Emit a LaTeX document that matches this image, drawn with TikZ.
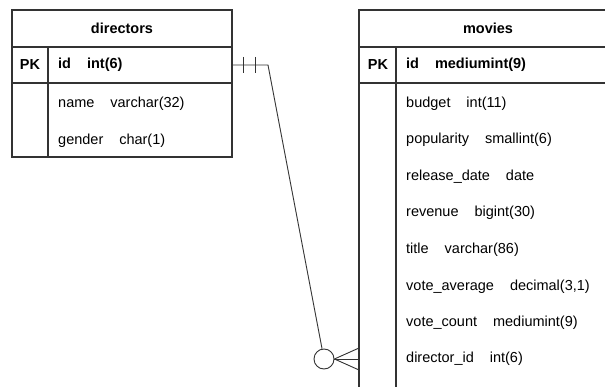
\documentclass[tikz,border=0pt]{standalone}
\usepackage{fontspec}
\setmainfont{Liberation Sans}
\usetikzlibrary{calc}

\newcommand{\fld}[2]{#1\hspace{1.1em}#2}
\newcommand{\erfont}{\fontsize{14.5}{17}\selectfont}

\tikzset{
  tbl/.style={draw, line width=1.1pt, color=black!80},
  head/.style={font=\erfont\bfseries},
  fld/.style={anchor=west, inner sep=0pt, font=\erfont},
  pk/.style={font=\erfont\bfseries, inner sep=0pt},
  rel/.style={draw, line width=0.9pt, color=black!80}
}

\begin{document}
\begin{tikzpicture}[x=1pt, y=-1pt]
  \useasboundingbox (0,0) rectangle (605,387);
  \clip (0,0) rectangle (605,387);
  \fill[white] (0,0) rectangle (605,387);

  % directors table
  \draw[tbl] (12,10) rectangle (232,157);
  \draw[tbl] (12,47) -- (232,47) (12,83) -- (232,83) (48,47) -- (48,157);
  \node[head] (directors) at (122,28) {directors};
  \node[pk] (d-pk) at (30,65) {PK};
  \node[fld, font=\erfont\bfseries] (d-id) at (58,65) {\fld{id}{int(6)}};
  \node[fld] (d-name) at (58,104) {\fld{name}{varchar(32)}};
  \node[fld] (d-gender) at (58,141) {\fld{gender}{char(1)}};

  % movies table
  \draw[tbl] (617,10) -- (359,10) -- (359,400);
  \draw[tbl] (359,47) -- (617,47) (359,83) -- (617,83) (396,47) -- (396,400);
  \node[head] (movies) at (488,28) {movies};
  \node[pk] (m-pk) at (378,65) {PK};
  \node[fld, font=\erfont\bfseries] (m-id) at (406,65) {\fld{id}{mediumint(9)}};
  \node[fld] (m-budget) at (406,104) {\fld{budget}{int(11)}};
  \node[fld] (m-pop) at (406,140) {\fld{popularity}{smallint(6)}};
  \node[fld] (m-rel) at (406,177) {\fld{release\_date}{date}};
  \node[fld] (m-rev) at (406,213) {\fld{revenue}{bigint(30)}};
  \node[fld] (m-title) at (406,250) {\fld{title}{varchar(86)}};
  \node[fld] (m-avg) at (406,287) {\fld{vote\_average}{decimal(3,1)}};
  \node[fld] (m-count) at (406,323) {\fld{vote\_count}{mediumint(9)}};
  \node[fld] (m-dir) at (406,359) {\fld{director\_id}{int(6)}};

  % relation: one (mandatory) to many (optional)
  \coordinate (one) at (232,65);
  \coordinate (bend) at (268,65);
  \coordinate (many) at (359,359);
  \node[circle, rel, fill=white, minimum size=20pt, inner sep=0pt] (opt) at (324,359) {};
  \draw[rel] (one) -- (bend) -- (opt);
  \draw[rel] ($(one)+(11,-8)$) -- ++(0,16);
  \draw[rel] ($(one)+(23,-8)$) -- ++(0,16);
  \draw[rel] (opt.east) -- ($(many)+(0,-11)$);
  \draw[rel] (opt.east) -- (many);
  \draw[rel] (opt.east) -- ($(many)+(0,11)$);
\end{tikzpicture}
\end{document}
